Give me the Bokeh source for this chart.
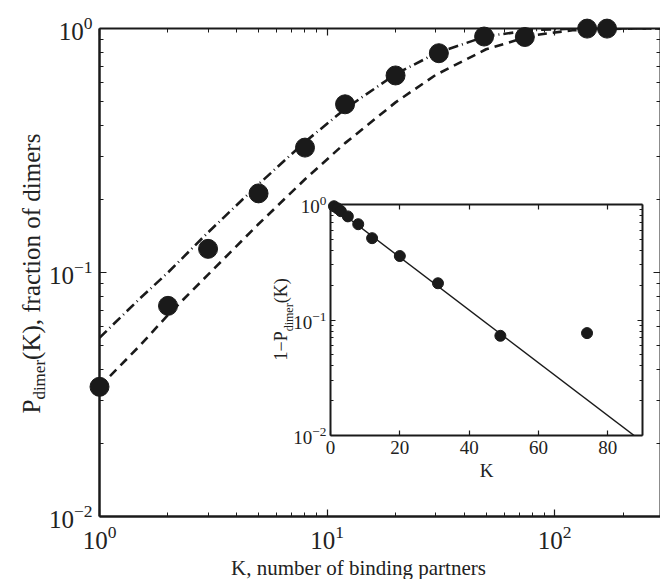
import math
from bokeh.plotting import figure
from bokeh.models import Range1d, LogAxis, LinearAxis, Label, FixedTicker
from bokeh.embed import file_html
from bokeh.resources import INLINE

# ---- data ----
K = [1, 2, 3, 5, 8, 12, 20, 31, 49, 74, 139, 170]
P_dimer = [0.034, 0.073, 0.125, 0.211, 0.325, 0.489, 0.642, 0.792, 0.927, 0.923, 0.999, 0.999]

curve_K = [1, 1.5, 2, 3, 5, 8, 12, 20, 30, 50, 80, 120, 200, 300]
dashed_P = [0.034, 0.050, 0.067, 0.098, 0.158, 0.241, 0.339, 0.498, 0.645, 0.822, 0.937, 0.984, 0.999, 1.0]
dashdot_P = [0.054, 0.078, 0.100, 0.146, 0.230, 0.343, 0.468, 0.650, 0.790, 0.930, 0.985, 0.998, 1.0, 1.0]

inset_K = K[:10]
inset_Q = [1 - v for v in P_dimer[:10]]
fit_K = [0, 90]
fit_Q = [1.0, 0.0088]

# tick values
x_major = [1, 10, 100]
x_minor = [2, 3, 4, 5, 6, 7, 8, 9, 20, 30, 40, 50, 60, 70, 80, 90, 200, 300]
y_major = [0.01, 0.1, 1]
y_minor = [0.02, 0.03, 0.04, 0.05, 0.06, 0.07, 0.08, 0.09,
           0.2, 0.3, 0.4, 0.5, 0.6, 0.7, 0.8, 0.9]
inset_x_major = [0, 20, 40, 60, 80]

INK = "#1a1a1a"
TXT = "#222222"
FONT = "Liberation Serif"


def style_axis(ax, fs, lw, labels=True, major_in=7, minor_in=4):
    ax.axis_line_color = INK
    ax.axis_line_width = lw
    ax.major_tick_line_color = INK
    ax.minor_tick_line_color = INK
    ax.major_tick_line_width = 1.2
    ax.minor_tick_line_width = 1
    ax.major_tick_in = major_in
    ax.major_tick_out = 0
    ax.minor_tick_in = minor_in
    ax.minor_tick_out = 0
    ax.major_label_text_font = FONT
    ax.major_label_text_color = TXT
    ax.major_label_text_font_size = f"{fs}px"
    if not labels:
        ax.major_label_text_font_size = "1px"
        ax.major_label_text_color = None
        ax.major_label_standoff = 0


def xt():
    return FixedTicker(ticks=x_major, minor_ticks=x_minor)


def yt():
    return FixedTicker(ticks=y_major, minor_ticks=y_minor)


def it():
    return FixedTicker(ticks=inset_x_major, minor_ticks=[])


# ---------------- main figure ----------------
p = figure(width=660, height=579, x_axis_type="log", y_axis_type="log",
           x_range=Range1d(1, 292), y_range=Range1d(0.01, 1),
           output_backend="svg", toolbar_location=None,
           min_border_left=99, min_border_right=0, min_border_top=28, min_border_bottom=63)
p.grid.visible = False
p.outline_line_color = None
p.background_fill_color = "white"
p.border_fill_color = "white"

p.xaxis.ticker = xt()
p.yaxis.ticker = yt()
for ax in p.xaxis + p.yaxis:
    style_axis(ax, 25, 2.5)
p.xaxis.major_label_standoff = 9
p.yaxis.major_label_standoff = 7

top = LogAxis(ticker=xt())
style_axis(top, 22, 2, labels=False)
p.add_layout(top, "above")
right = LogAxis(ticker=yt())
style_axis(right, 22, 2, labels=False)
p.add_layout(right, "right")

p.line(curve_K, dashed_P, line_color=INK, line_width=2.6, line_dash="9 6")
p.line(curve_K, dashdot_P, line_color=INK, line_width=2.6, line_dash="10 4 1 4")
p.scatter(K, P_dimer, size=19, color=INK, level="overlay")

# ---------------- inset ----------------
ins = figure(width=395, height=293, y_axis_type="log",
             x_range=Range1d(0, 90), y_range=Range1d(0.01, 1),
             output_backend="svg", toolbar_location=None,
             min_border_left=75, min_border_right=8, min_border_top=14, min_border_bottom=45)
ins.styles = {"position": "absolute", "left": "255px", "top": "190px"}
ins.grid.visible = False
ins.outline_line_color = None
ins.background_fill_color = "white"
ins.border_fill_color = None

ins.xaxis.ticker = it()
ins.yaxis.ticker = yt()
for ax in ins.xaxis + ins.yaxis:
    style_axis(ax, 19, 2, major_in=5, minor_in=3)
ins.xaxis.major_label_standoff = 5
ins.yaxis.major_label_standoff = 4
ins.xaxis.axis_label = "K"
ins.xaxis.axis_label_text_font = FONT
ins.xaxis.axis_label_text_font_style = "normal"
ins.xaxis.axis_label_text_font_size = "19px"
ins.xaxis.axis_label_text_color = TXT
ins.xaxis.axis_label_standoff = 3

itop = LinearAxis(ticker=it())
style_axis(itop, 18, 2, labels=False, major_in=5, minor_in=3)
ins.add_layout(itop, "above")
iright = LogAxis(ticker=yt())
style_axis(iright, 18, 2, labels=False, major_in=5, minor_in=3)
ins.add_layout(iright, "right")

ins.line(fit_K, fit_Q, line_color=INK, line_width=1.4)
ins.scatter(inset_K, inset_Q, size=11, color=INK, level="overlay")

# ---------------- transparent overlay for the composed axis titles ----------------
ov = figure(width=660, height=579, x_range=Range1d(0, 660), y_range=Range1d(579, 0),
            output_backend="svg", toolbar_location=None,
            x_axis_location=None, y_axis_location=None, min_border=0)
ov.styles = {"position": "absolute", "left": "0px", "top": "0px"}
ov.outline_line_color = None
ov.background_fill_color = None
ov.border_fill_color = None
ov.xgrid.visible = False
ov.ygrid.visible = False
for r in ov.center:
    r.visible = False


def lab(text, x, y, fs, angle=0.0, align="left"):
    ov.add_layout(Label(x=x, y=y, text=text, angle=angle, text_align=align,
                        text_baseline="alphabetic", text_font=FONT,
                        text_font_size=f"{fs}px", text_color=TXT))


ang = math.pi / 2
lab("K, number of binding partners", 358, 567, 21, align="center")

fs, fsub = 25, 17
ys = 413
lab("P", 31, ys, fs, angle=ang)
ys -= 0.556 * fs
lab("dimer", 39, ys, fsub, angle=ang)
ys -= 2.333 * fsub
lab("(K), fraction of dimers", 31, ys, fs, angle=ang)

fs2, fsub2 = 18, 12
ys = 360
lab("1\u2212P", 280, ys, fs2, angle=ang)
ys -= (0.5 + 0.564 + 0.556) * fs2
lab("dimer", 288, ys, fsub2, angle=ang)
ys -= 2.333 * fsub2
lab("(K)", 280, ys, fs2, angle=ang)

open("out.html", "w").write(file_html([p, ins, ov], INLINE))
